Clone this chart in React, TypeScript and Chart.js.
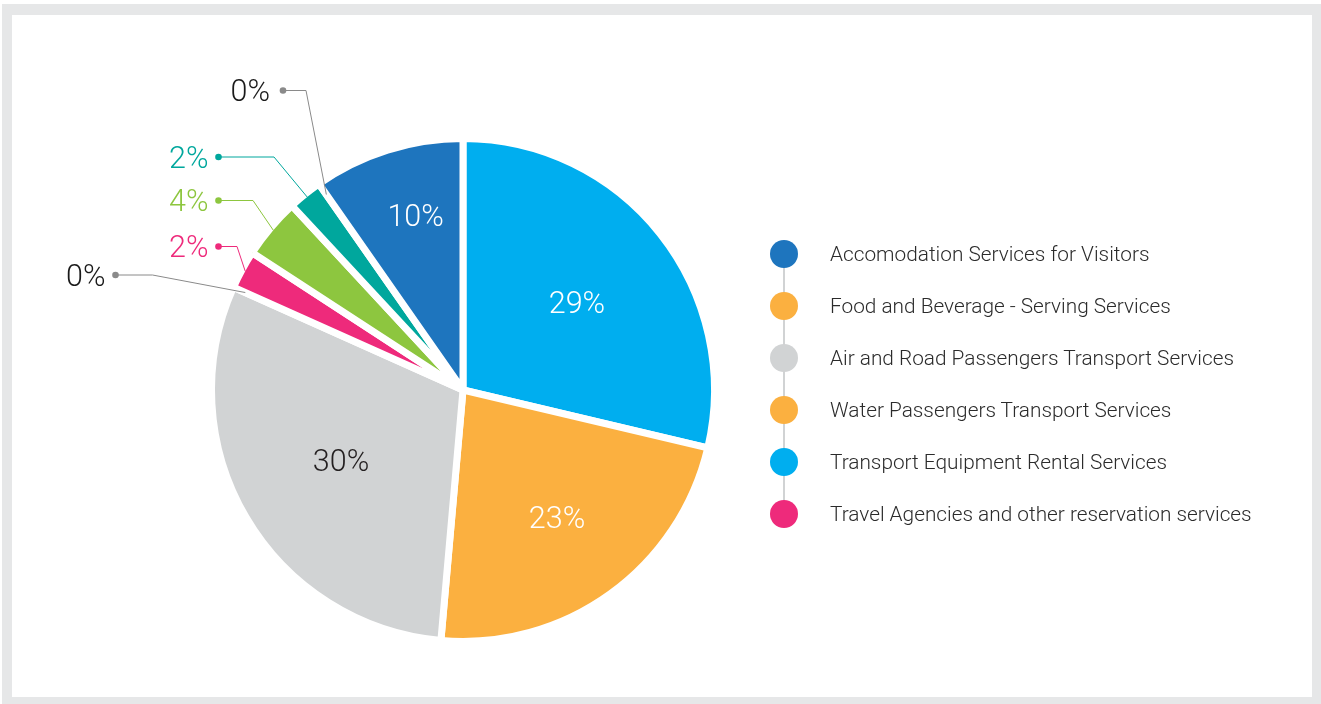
import React, { useEffect, useRef } from 'react';
import { Chart, registerables } from 'chart.js';

Chart.register(...registerables);

// ---- data ----
const sliceNames = [
  'Transport Equipment Rental Services',
  'Food and Beverage - Serving Services',
  'Air and Road Passengers Transport Services',
  'Water Passengers Transport Services',
  'Travel Agencies and other reservation services',
  'Other Services A',
  'Other Services B',
  'Other Services C',
  'Accomodation Services for Visitors',
];
const sliceShares = [28.7, 22.7, 30.3, 0, 2.49, 3.9, 2.2, 0, 9.71];
const sliceColors = ['#00aeef', '#fbb040', '#d1d3d4', '#fbb040', '#ee2a7b', '#8dc63f', '#00a79d', '#8a8a8a', '#1e75be'];

const legendNames = [
  'Accomodation Services for Visitors',
  'Food and Beverage - Serving Services',
  'Air and Road Passengers Transport Services',
  'Water Passengers Transport Services',
  'Transport Equipment Rental Services',
  'Travel Agencies and other reservation services',
];
const legendColors = ['#1e75be', '#fbb040', '#d1d3d4', '#fbb040', '#00aeef', '#ee2a7b'];

// ---- label layout (presentation only) ----
const FONT = 'Roboto, "Noto Sans", sans-serif';
const LABEL_SIZE = 30.5;
const insideLabels: Record<number, { r: number; da: number; color: string }> = {
  0: { r: 0.573, da: 0.6, color: '#ffffff' },
  1: { r: 0.628, da: -0.7, color: '#ffffff' },
  2: { r: 0.559, da: 0.6, color: '#231f20' },
  8: { r: 0.72, da: 2.3, color: '#ffffff' },
};
// offsets relative to pie centre
const outsideLabels: Record<number, { dy: number; dotDx: number; elbowDx: number; gap: number; text: string; line: string }> = {
  3: { dy: -115, dotDx: -347.5, elbowDx: -310.5, gap: 10, text: '#1a1a1a', line: '#8a8a8a' },
  4: { dy: -143.5, dotDx: -244.5, elbowDx: -226, gap: 10, text: '#ee2a7b', line: '#ee2a7b' },
  5: { dy: -189.5, dotDx: -244.5, elbowDx: -210, gap: 10, text: '#8dc63f', line: '#8dc63f' },
  6: { dy: -233, dotDx: -244.5, elbowDx: -189, gap: 10, text: '#00a79d', line: '#00a79d' },
  7: { dy: -299.5, dotDx: -180, elbowDx: -157, gap: 13, text: '#1a1a1a', line: '#8a8a8a' },
};

const pieLabelsPlugin = {
  id: 'pieLabels',
  afterDatasetsDraw(chart: any) {
    const ctx = chart.ctx;
    const meta = chart.getDatasetMeta(0);
    const data = chart.data.datasets[0].data as number[];
    ctx.save();
    ctx.font = `300 ${LABEL_SIZE}px ${FONT}`;
    ctx.textBaseline = 'alphabetic';
    const capHalf = LABEL_SIZE * 0.355;
    meta.data.forEach((arc: any, i: number) => {
      const { x, y, startAngle, endAngle, outerRadius } = arc.getProps(['x', 'y', 'startAngle', 'endAngle', 'outerRadius'], true);
      const mid = (startAngle + endAngle) / 2;
      const text = Math.round(data[i]) + '%';
      const ins = insideLabels[i];
      if (ins) {
        const r = outerRadius * ins.r;
        const a = mid + (ins.da * Math.PI) / 180;
        ctx.fillStyle = ins.color;
        ctx.textAlign = 'center';
        ctx.fillText(text, x + Math.cos(a) * r, y + Math.sin(a) * r + capHalf);
        return;
      }
      const out = outsideLabels[i];
      if (!out) return;
      const zero = data[i] === 0;
      const er = zero ? outerRadius - 13 : outerRadius - 3.5;
      const ex = x + Math.cos(mid) * er;
      const ey = y + Math.sin(mid) * er;
      const rowY = y + out.dy;
      const dotX = x + out.dotDx;
      const elbowX = x + out.elbowDx;
      ctx.strokeStyle = out.line;
      ctx.lineWidth = 1;
      ctx.beginPath();
      ctx.moveTo(dotX, rowY);
      ctx.lineTo(elbowX, rowY);
      ctx.lineTo(ex, ey);
      ctx.stroke();
      ctx.fillStyle = out.line;
      ctx.beginPath();
      ctx.arc(dotX, rowY, 3.3, 0, Math.PI * 2);
      ctx.fill();
      ctx.fillStyle = out.text;
      ctx.textAlign = 'right';
      ctx.fillText(text, dotX - out.gap, rowY + capHalf);
    });
    ctx.restore();
  },
};

function PieChart() {
  const ref = useRef<HTMLCanvasElement | null>(null);
  useEffect(() => {
    if (!ref.current) return;
    const chart = new Chart(ref.current, {
      type: 'pie',
      data: {
        labels: sliceNames,
        datasets: [
          {
            data: sliceShares,
            backgroundColor: sliceColors,
            borderColor: '#ffffff',
            borderWidth: 7,
            borderAlign: 'center',
            hoverOffset: 0,
          },
        ],
      },
      options: {
        animation: false,
        responsive: false,
        events: [],
        rotation: 0,
        radius: 251.5,
        layout: { padding: { left: 211.5, top: 138.5, right: 606.5, bottom: 62.5 } },
        plugins: {
          legend: { display: false },
          tooltip: { enabled: false },
        },
      },
      plugins: [pieLabelsPlugin],
    });
    return () => chart.destroy();
  }, []);
  return <canvas ref={ref} width={1321} height={704} style={{ position: 'absolute', left: 0, top: 0, width: 1321, height: 704 }} />;
}

function Legend() {
  const top0 = 254;
  const step = 52;
  return (
    <div style={{ position: 'absolute', left: 0, top: 0 }}>
      <div
        style={{
          position: 'absolute',
          left: 783,
          top: top0,
          width: 2,
          height: step * (legendNames.length - 1),
          background: '#d1d3d4',
        }}
      />
      {legendNames.map((name, i) => (
        <React.Fragment key={name}>
          <div
            style={{
              position: 'absolute',
              left: 784 - 14,
              top: top0 + step * i - 14,
              width: 28,
              height: 28,
              borderRadius: '50%',
              background: legendColors[i],
            }}
          />
          <div
            style={{
              position: 'absolute',
              left: 830,
              top: top0 + step * i - 15,
              height: 30,
              lineHeight: '30px',
              whiteSpace: 'nowrap',
              fontFamily: FONT,
              fontWeight: 300,
              fontSize: 20.8,
              color: '#2b2b2b',
            }}
          >
            {name}
          </div>
        </React.Fragment>
      ))}
    </div>
  );
}

export default function App() {
  return (
    <div style={{ position: 'absolute', left: 0, top: 0, width: 1321, height: 704, background: '#ffffff', overflow: 'hidden' }}>
      <div style={{ position: 'absolute', left: 2, top: 4, right: 0, bottom: 0, background: '#e6e7e8' }} />
      <div style={{ position: 'absolute', left: 12, top: 15, width: 1300, height: 682, background: '#ffffff' }} />
      <PieChart />
      <Legend />
    </div>
  );
}
